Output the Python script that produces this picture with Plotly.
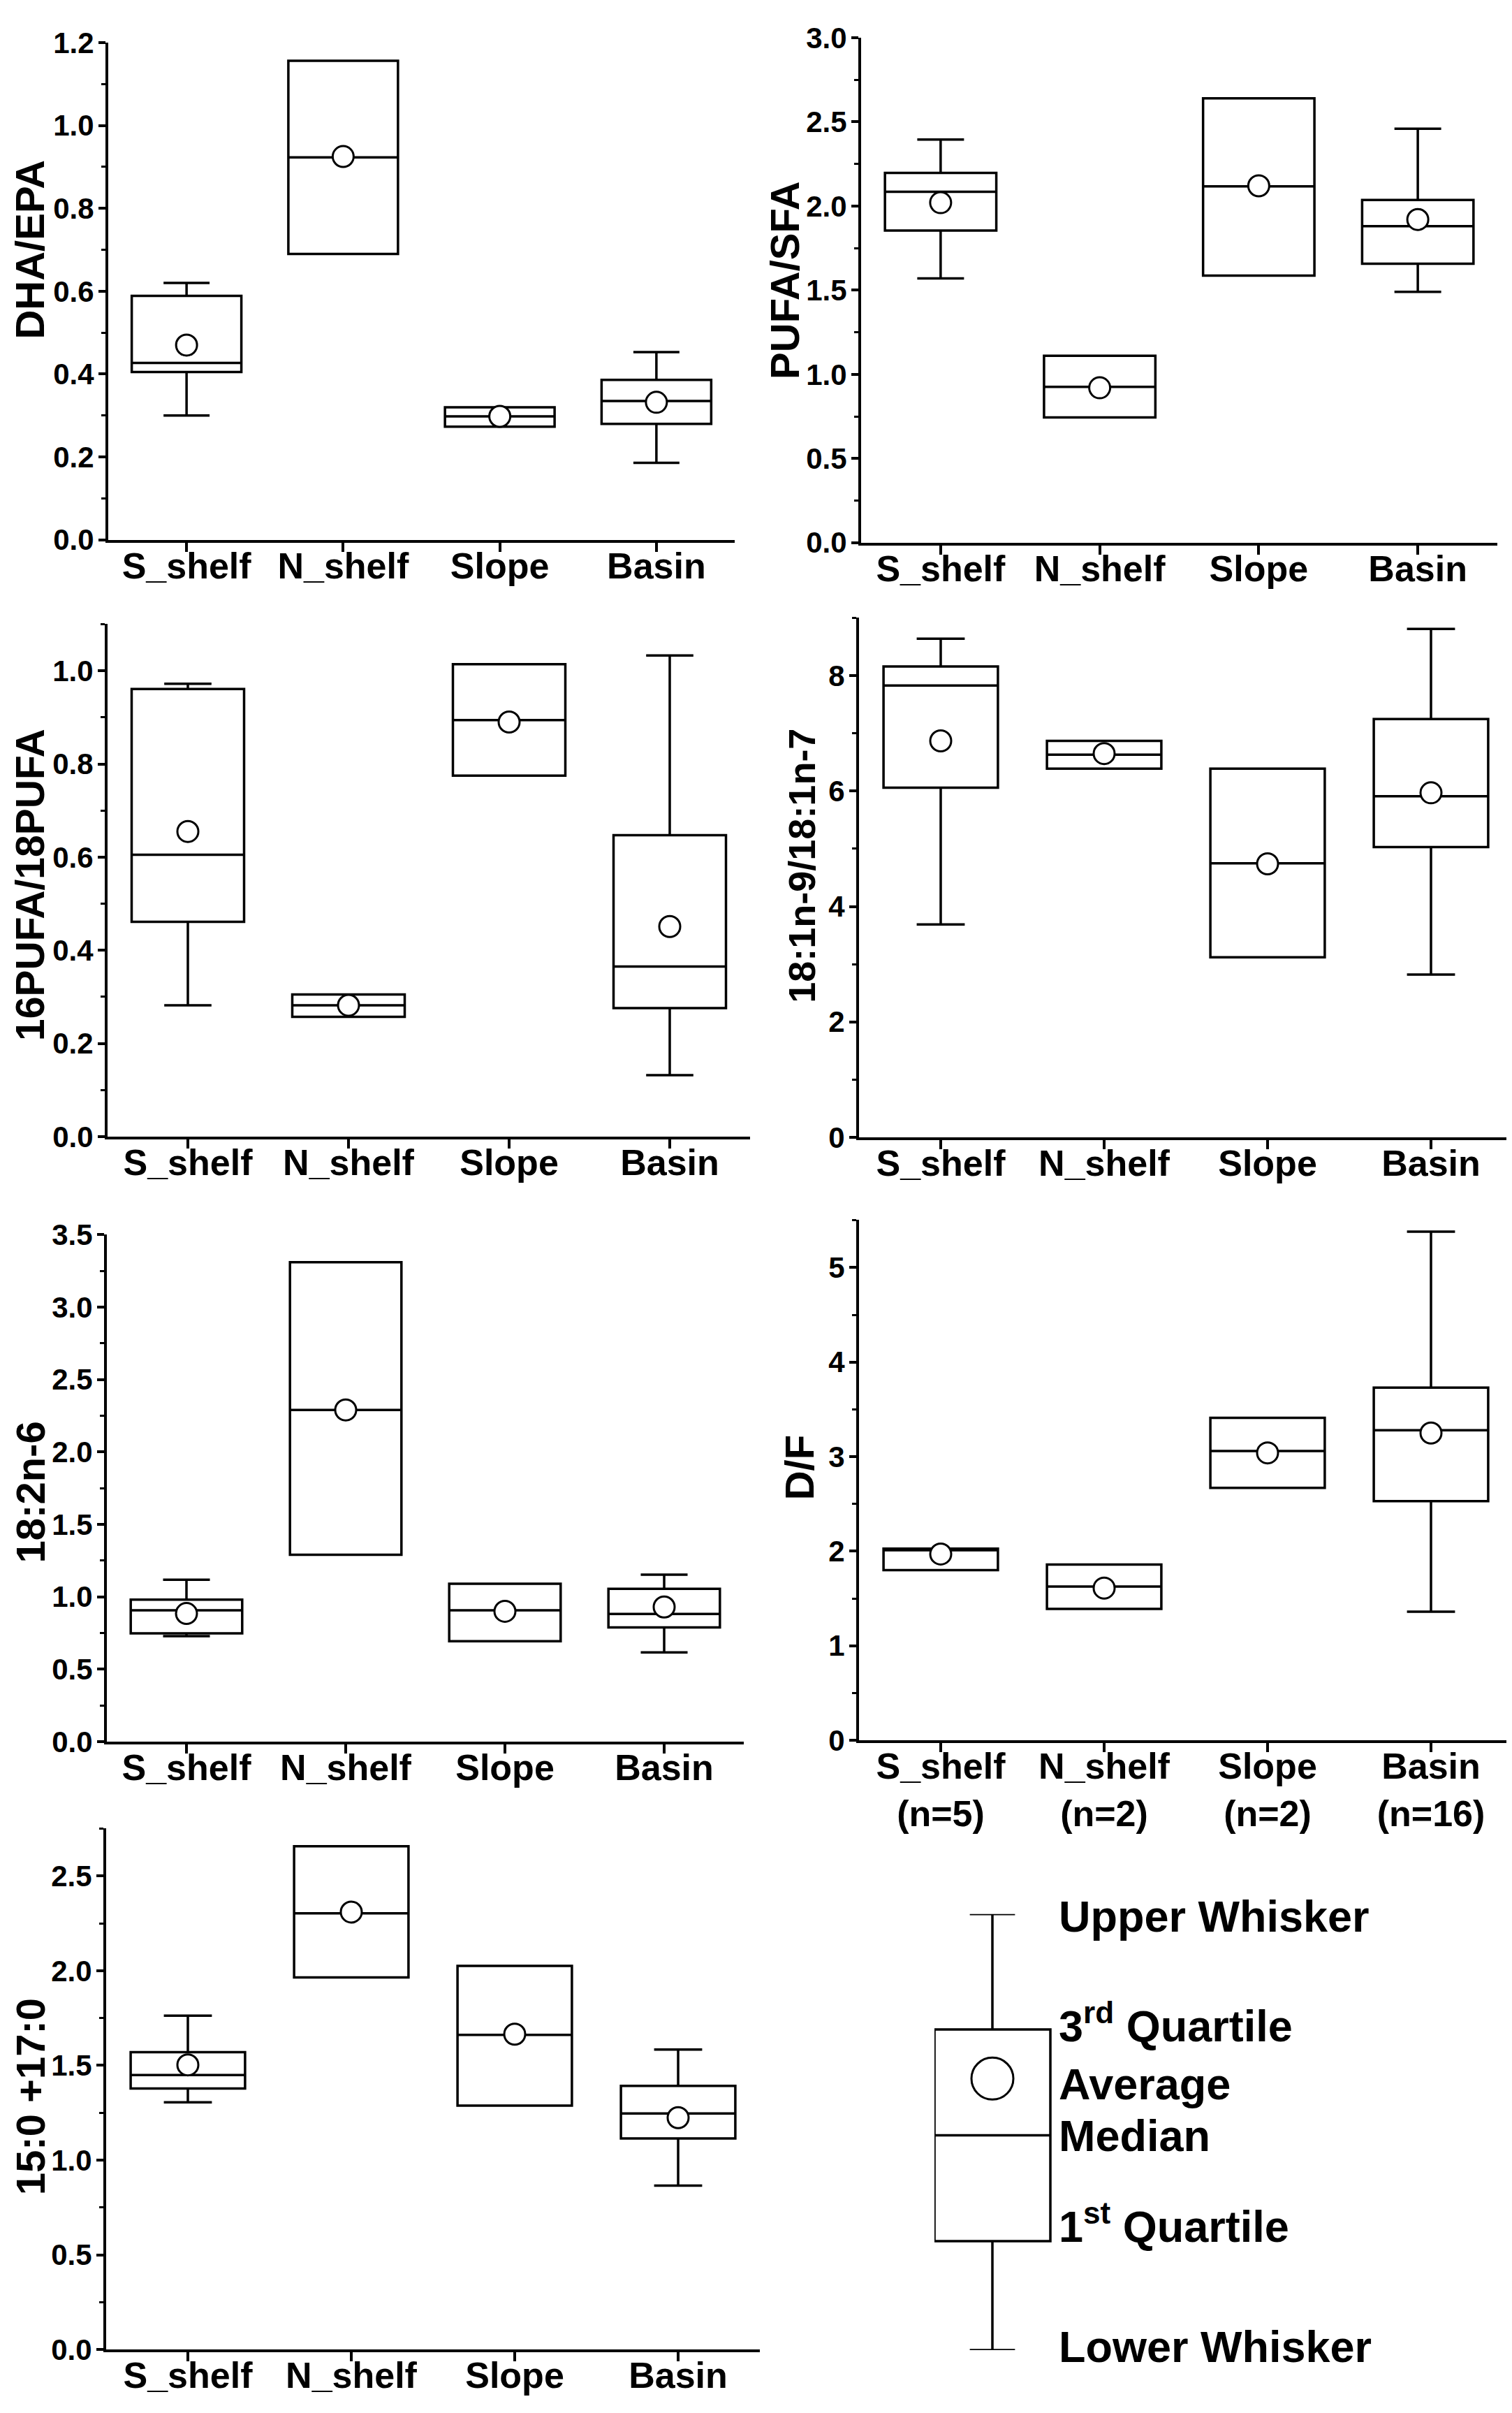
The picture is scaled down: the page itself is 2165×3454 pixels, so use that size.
import plotly.graph_objects as go

W, H = 2165, 3454

sites = ["S_shelf", "N_shelf", "Slope", "Basin"]
sites_n = ["S_shelf<br>(n=5)", "N_shelf<br>(n=2)", "Slope<br>(n=2)", "Basin<br>(n=16)"]

# DHA/EPA
dha_low = [0.30, 0.69, 0.273, 0.186]
dha_q1 = [0.405, 0.69, 0.273, 0.28]
dha_med = [0.427, 0.923, 0.298, 0.335]
dha_q3 = [0.589, 1.156, 0.32, 0.386]
dha_high = [0.62, 1.156, 0.32, 0.453]
dha_mean = [0.47, 0.925, 0.298, 0.332]

# PUFA/SFA
pufa_low = [1.57, 0.744, 1.587, 1.49]
pufa_q1 = [1.854, 0.744, 1.587, 1.657]
pufa_med = [2.085, 0.926, 2.117, 1.88]
pufa_q3 = [2.197, 1.11, 2.64, 2.036]
pufa_high = [2.395, 1.11, 2.64, 2.46]
pufa_mean = [2.02, 0.92, 2.12, 1.92]

# 16PUFA/18PUFA
p16_low = [0.282, 0.257, 0.775, 0.132]
p16_q1 = [0.461, 0.257, 0.775, 0.276]
p16_med = [0.605, 0.282, 0.894, 0.365]
p16_q3 = [0.961, 0.305, 1.014, 0.647]
p16_high = [0.972, 0.305, 1.014, 1.033]
p16_mean = [0.655, 0.282, 0.89, 0.451]

# 18:1n-9/18:1n-7
o18_low = [3.69, 6.39, 3.12, 2.82]
o18_q1 = [6.06, 6.39, 3.12, 5.03]
o18_med = [7.83, 6.63, 4.75, 5.91]
o18_q3 = [8.16, 6.87, 6.39, 7.25]
o18_high = [8.64, 6.87, 6.39, 8.81]
o18_mean = [6.87, 6.65, 4.74, 5.97]

# 18:2n-6
la_low = [0.729, 1.29, 0.693, 0.616]
la_q1 = [0.748, 1.29, 0.693, 0.789]
la_med = [0.907, 2.29, 0.907, 0.882]
la_q3 = [0.981, 3.31, 1.09, 1.055]
la_high = [1.118, 3.31, 1.09, 1.153]
la_mean = [0.885, 2.29, 0.90, 0.93]

# D/F
df_low = [1.80, 1.39, 2.67, 1.36]
df_q1 = [1.80, 1.39, 2.67, 2.53]
df_med = [2.01, 1.626, 3.06, 3.28]
df_q3 = [2.026, 1.858, 3.41, 3.73]
df_high = [2.026, 1.858, 3.41, 5.38]
df_mean = [1.97, 1.61, 3.04, 3.25]

# 15:0 + 17:0
odd_low = [1.305, 1.965, 1.288, 0.865]
odd_q1 = [1.378, 1.965, 1.288, 1.114]
odd_med = [1.449, 2.303, 1.661, 1.246]
odd_q3 = [1.57, 2.658, 2.026, 1.392]
odd_high = [1.763, 2.658, 2.026, 1.584]
odd_mean = [1.503, 2.31, 1.665, 1.224]

# legend key (schematic box)
key_low, key_q1, key_med, key_mean, key_q3, key_high = 0.0, 1.0, 1.97, 2.49, 2.94, 4.0
key_labels = ["Upper Whisker", "3<sup>rd</sup> Quartile", "Average", "Median",
              "1<sup>st</sup> Quartile", "Lower Whisker"]
key_label_y = [3.98, 3.0, 2.44, 1.97, 1.16, 0.03]

FONT = "Liberation Sans, Arial, Helvetica, sans-serif"

panels = [
    # title, data, ymax, dtick, minor, fmt, x px domain, y px (top, bottom),
    # title x px, title y (data), title size, tick labels
    ("DHA/EPA", (dha_low, dha_q1, dha_med, dha_q3, dha_high, dha_mean),
     1.2, 0.2, 0.1, ".1f", (147, 1044), (30, 752), 35, 0.70, 58, sites),
    ("PUFA/SFA", (pufa_low, pufa_q1, pufa_med, pufa_q3, pufa_high, pufa_mean),
     3.0, 0.5, 0.25, ".1f", (1225, 2136), (23, 756), 1116, 1.56, 58, sites),
    ("16PUFA/18PUFA", (p16_low, p16_q1, p16_med, p16_q3, p16_high, p16_mean),
     1.1, 0.2, 0.1, ".1f", (146, 1066), (874, 1618), 35, 0.54, 57, sites),
    ("18:1n-9/18:1n-7", (o18_low, o18_q1, o18_med, o18_q3, o18_high, o18_mean),
     9, 2, 1, "d", (1222, 2158), (865, 1619), 1140, 4.7, 54, sites),
    ("18:2n-6", (la_low, la_q1, la_med, la_q3, la_high, la_mean),
     3.5, 0.5, 0.25, ".1f", (145, 1057), (1760, 2496), 35, 1.72, 58, sites),
    ("D/F", (df_low, df_q1, df_med, df_q3, df_high, df_mean),
     5.5, 1, 0.5, "d", (1222, 2158), (1739, 2494), 1136, 2.88, 58, sites_n),
    ("15:0 +17:0", (odd_low, odd_q1, odd_med, odd_q3, odd_high, odd_mean),
     2.75, 0.5, 0.25, ".1f", (144, 1080), (2622, 3378), 35, 1.335, 58, sites),
]

fig = go.Figure()
layout = dict(width=W, height=H, margin=dict(l=0, r=0, t=0, b=0),
              paper_bgcolor="white", plot_bgcolor="white", showlegend=False,
              annotations=[])

xpos = [0, 1, 2, 3]
for i, (title, d, ymax, dtick, minor, fmt, xd, yd, tx, ty, tsize, labels) in enumerate(panels, start=1):
    low, q1, med, q3, high, mean = d
    xa = "x" if i == 1 else f"x{i}"
    ya = "y" if i == 1 else f"y{i}"
    fig.add_trace(go.Box(
        x=xpos, q1=q1, median=med, q3=q3, lowerfence=low, upperfence=high,
        width=0.7, whiskerwidth=0.42, boxpoints=False,
        line=dict(color="black", width=3.5), fillcolor="white",
        xaxis=xa, yaxis=ya, hoverinfo="skip"))
    fig.add_trace(go.Scatter(
        x=xpos, y=mean, mode="markers", cliponaxis=False,
        marker=dict(symbol="circle", size=30, color="white",
                    line=dict(color="black", width=3)),
        xaxis=xa, yaxis=ya, hoverinfo="skip"))
    xkey = "xaxis" if i == 1 else f"xaxis{i}"
    ykey = "yaxis" if i == 1 else f"yaxis{i}"
    layout[xkey] = dict(
        domain=[xd[0] / W, xd[1] / W], anchor=ya, range=[-0.5, 3.5],
        tickvals=xpos, ticktext=labels, showline=True, linecolor="black",
        linewidth=4, ticks="outside", ticklen=13, tickwidth=3.5, tickcolor="black",
        ticklabelstandoff=-24, showgrid=False, zeroline=False,
        tickfont=dict(family=FONT, size=52, color="black", weight="bold"))
    layout[ykey] = dict(
        domain=[1 - yd[1] / H, 1 - yd[0] / H], anchor=xa, range=[0, ymax * 1.0005],
        tick0=0, dtick=dtick, tickformat=fmt, showline=True, linecolor="black",
        linewidth=4, ticks="outside", ticklen=10, tickwidth=3.5, tickcolor="black",
        ticklabelstandoff=-2,
        minor=dict(dtick=minor, tick0=0, ticks="outside", ticklen=6, tickwidth=3,
                   tickcolor="black"),
        showgrid=False, zeroline=False,
        tickfont=dict(family=FONT, size=42, color="black", weight="bold"))
    layout["annotations"].append(dict(
        text=title, xref="paper", yref=ya, x=tx / W, y=ty, textangle=-90,
        xanchor="center", yanchor="middle", showarrow=False, borderpad=0,
        font=dict(family=FONT, size=tsize, color="black", weight="bold")))

# legend key panel
fig.add_trace(go.Box(
    x=[0], q1=[key_q1], median=[key_med], q3=[key_q3],
    lowerfence=[key_low], upperfence=[key_high],
    width=1.0, whiskerwidth=0.39, boxpoints=False,
    line=dict(color="black", width=3.5), fillcolor="white",
    xaxis="x8", yaxis="y8", hoverinfo="skip"))
fig.add_trace(go.Scatter(
    x=[0], y=[key_mean], mode="markers", cliponaxis=False,
    marker=dict(symbol="circle", size=60, color="white",
                line=dict(color="black", width=3)),
    xaxis="x8", yaxis="y8", hoverinfo="skip"))
layout["xaxis8"] = dict(domain=[1330 / W, 1662 / W], anchor="y8", range=[-0.5, 1.5],
                        visible=False)
layout["yaxis8"] = dict(domain=[1 - 3379 / H, 1 - 2746 / H], anchor="x8", range=[0, 4],
                        visible=False)
for lab, ly in zip(key_labels, key_label_y):
    layout["annotations"].append(dict(
        text=lab, xref="x8", yref="y8", x=0.56, y=ly, xanchor="left",
        yanchor="middle", showarrow=False,
        font=dict(family=FONT, size=63, color="black", weight="bold")))

fig.update_layout(**layout)
fig.write_html("out.html")
